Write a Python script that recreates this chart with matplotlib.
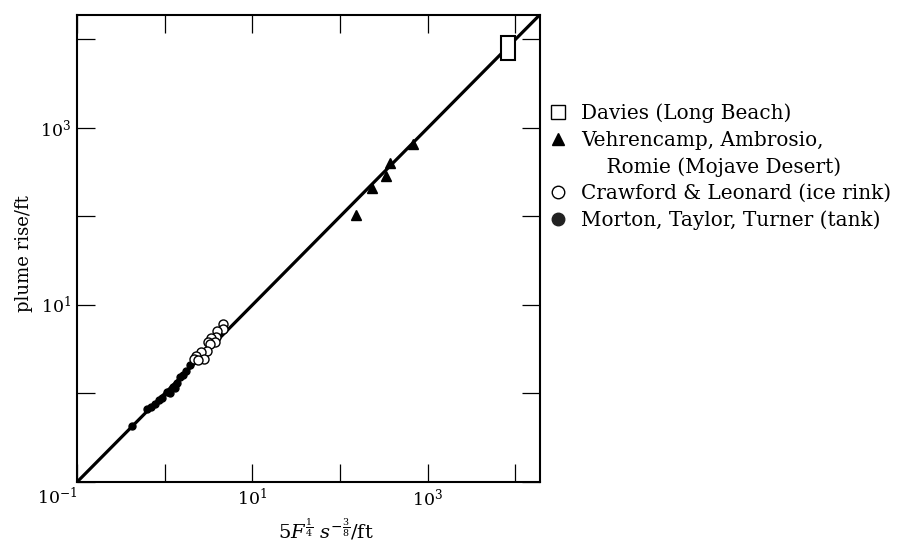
"""Plume rise vs 5 F^(1/4) s^(-3/8), log-log comparison with field and tank data."""
import matplotlib
matplotlib.use('Agg')
import matplotlib.pyplot as plt
import numpy as np
from matplotlib.lines import Line2D
from matplotlib.patches import Rectangle
from matplotlib.ticker import LogLocator, FuncFormatter, NullLocator

plt.rcParams['font.family'] = 'DejaVu Serif'
plt.rcParams['mathtext.fontset'] = 'dejavuserif'

# ─── data ───
davies_x = [6800, 9900]          # box extent
davies_y = [5800, 10800]
mojave_x = [152, 229, 331, 371, 684]
mojave_y = [105, 210, 284, 405, 665]
rink_x = [4.66, 4.58, 3.92, 3.85, 3.35, 3.75, 3.14, 3.29, 3.01, 2.57, 2.81, 2.28, 2.16, 2.42]
rink_y = [6.03, 5.33, 5.11, 4.37, 4.19, 3.83, 3.83, 3.58, 3.01, 2.96, 2.43, 2.64, 2.43, 2.38]
tank_x = [0.42, 0.63, 0.69, 0.77, 0.85, 0.94, 1.05, 1.15, 1.23, 1.31, 1.37, 1.49, 1.60, 1.75, 1.94]
tank_y = [0.43, 0.66, 0.70, 0.77, 0.84, 0.90, 1.04, 1.00, 1.19, 1.14, 1.30, 1.54, 1.61, 1.80, 2.09]

legend_labels = ['Davies (Long Beach)',
                 'Vehrencamp, Ambrosio,',
                 '    Romie (Mojave Desert)',
                 'Crawford & Leonard (ice rink)',
                 'Morton, Taylor, Turner (tank)']

LO, HI = 0.1, 10 ** 4.28

fig = plt.figure(figsize=(9.01, 5.43), dpi=100)
ax = fig.add_axes([0.0855, 0.1123, 0.5138, 0.8608])
ax.set_xscale('log')
ax.set_yscale('log')
ax.set_xlim(LO, HI)
ax.set_ylim(LO, HI)

# theory line: plume rise = 5 F^1/4 s^-3/8
ax.plot([LO, HI], [LO, HI], color='black', lw=2.3, zorder=2, solid_capstyle='butt')

ax.plot(tank_x, tank_y, 'o', ms=5, color='black', zorder=3)
ax.plot(rink_x, rink_y, 'o', ms=6.5, mfc='white', mec='black', mew=1.0, zorder=4)
ax.plot(mojave_x, mojave_y, '^', ms=6.5, color='black', zorder=3)
ax.add_patch(Rectangle((davies_x[0], davies_y[0]), davies_x[1] - davies_x[0],
                       davies_y[1] - davies_y[0], fc='white', ec='black', lw=1.5, zorder=4))

# ─── ticks ───
for axis in (ax.xaxis, ax.yaxis):
    axis.set_major_locator(LogLocator(base=10, numticks=20))
    axis.set_minor_locator(NullLocator())
    axis.set_major_formatter(FuncFormatter(
        lambda v, pos: f'$10^{{{int(round(np.log10(v)))}}}$'
        if int(round(np.log10(v))) in (1, 3) else ''))

ax.tick_params(which='major', direction='in', length=13, width=0.9,
               top=True, right=True, labelsize=12.5, pad=4)
for sp in ax.spines.values():
    sp.set_linewidth(1.5)

# shared corner label
ax.text(0, -0.010, '$10^{-1}$', transform=ax.transAxes, ha='right', va='top', fontsize=12.5)

ax.set_ylabel('plume rise/ft', fontsize=13)
ax.yaxis.set_label_coords(-0.095, 0.488)
ax.set_xlabel(r'$5F^{\frac{1}{4}}\ s^{-\frac{3}{8}}/\mathrm{ft}$', fontsize=14)
ax.xaxis.label.set_va('baseline')
ax.xaxis.set_label_coords(0.537, -0.12)

# ─── legend ───
handles = [
    Line2D([], [], ls='none', marker='s', ms=10, mfc='white', mec='black', mew=1),
    Line2D([], [], ls='none', marker='^', ms=9, color='black'),
    Line2D([], [], ls='none'),
    Line2D([], [], ls='none', marker='o', ms=9, mfc='white', mec='black', mew=1),
    Line2D([], [], ls='none', marker='o', ms=9, color='#222222'),
]
fig.legend(handles, legend_labels, loc='upper left',
           bbox_to_anchor=(548 / 901, 1 - 103.5 / 543), frameon=False, fontsize=14.4,
           handlelength=1.0, handletextpad=0.65, labelspacing=0.37,
           borderpad=0, borderaxespad=0)

fig.savefig('out.png', dpi=100, facecolor='white')
plt.close()
